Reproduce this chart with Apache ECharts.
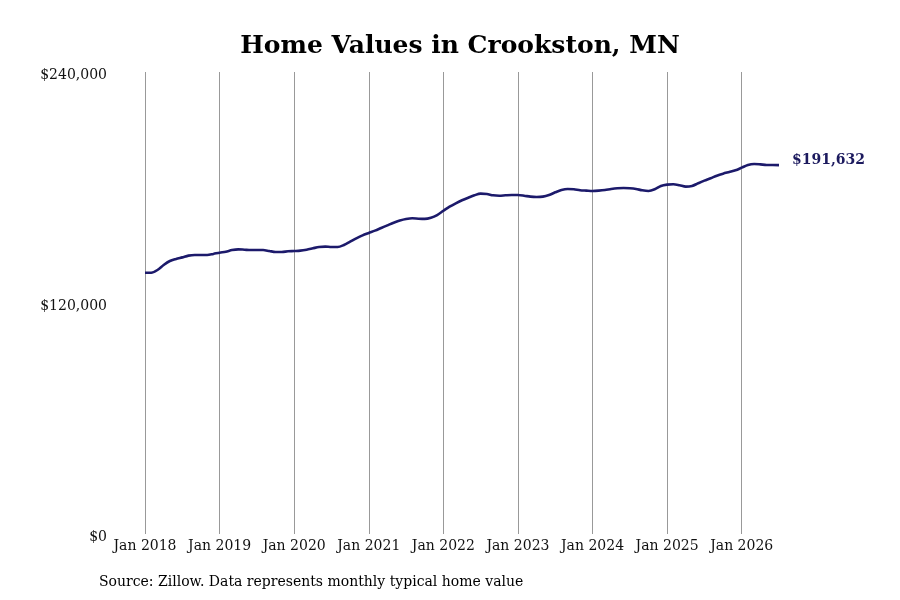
<!DOCTYPE html>
<html>
<head>
<meta charset="utf-8">
<script src="https://cdn.jsdelivr.net/npm/echarts@6/dist/echarts.min.js"></script>
<style>html,body{margin:0;padding:0;background:#fff;}#c{width:900px;height:600px;}</style>
</head>
<body>
<div id="c"></div>
<script>
var years = [2018, 2019, 2020, 2021, 2022, 2023, 2024, 2025, 2026];
var monthsInLastYear = 7;
var values2018 = [135700, 135700, 137150, 139750, 141800, 142860, 143700, 144600, 144940, 144940, 144940, 145500];
var values2019 = [146150, 146650, 147500, 147880, 147700, 147500, 147500, 147500, 147000, 146500, 146500, 146850];
var values2020 = [147000, 147200, 147700, 148400, 149100, 149300, 149100, 149100, 150150, 151850, 153600, 155150];
var values2021 = [156400, 157600, 158970, 160350, 161700, 162800, 163600, 164000, 163800, 163700, 164300, 165700];
var values2022 = [167900, 170050, 171800, 173350, 174700, 175950, 176800, 176630, 175950, 175750, 175950, 176100];
var values2023 = [176100, 175750, 175250, 175070, 175250, 176100, 177500, 178700, 179230, 179050, 178550, 178370];
var values2024 = [178200, 178370, 178700, 179230, 179600, 179750, 179600, 179230, 178550, 178200, 179050, 180800];
var values2025 = [181500, 181670, 181150, 180450, 180800, 182200, 183550, 184780, 186150, 187200, 188050, 188930];
var values2026 = [190300, 191700, 192200, 192000, 191700, 191700, 191632];
var yTicks = [0, 120000, 240000];
var titleText = 'Home Values in Crookston, MN';
var sourceText = 'Source: Zillow. Data represents monthly typical home value';

var monthNames = ['Jan','Feb','Mar','Apr','May','Jun','Jul','Aug','Sep','Oct','Nov','Dec'];
var categories = [];
years.forEach(function (y, i) {
  var n = (i === years.length - 1) ? monthsInLastYear : 12;
  for (var m = 0; m < n; m++) categories.push(monthNames[m] + ' ' + y);
});
var values = [].concat(values2018, values2019, values2020, values2021, values2022, values2023, values2024, values2025, values2026);

function money(v) { return '$' + Math.round(v).toLocaleString('en-US'); }

var font = '"DejaVu Serif", serif';
var chart = echarts.init(document.getElementById('c'), null, { renderer: 'canvas' });
chart.setOption({
  backgroundColor: '#ffffff',
  animation: false,
  title: {
    text: titleText,
    left: 455,
    top: 29,
    textAlign: 'center',
    textStyle: { fontFamily: font, fontWeight: 'bold', fontSize: 25, color: '#000' }
  },
  grid: { left: 145, right: 121, top: 72, bottom: 66, containLabel: false },
  xAxis: {
    type: 'category',
    data: categories,
    boundaryGap: false,
    axisLine: { show: false },
    axisTick: { show: false },
    axisLabel: {
      interval: function (idx) { return idx % 12 === 0; },
      fontFamily: font, fontSize: 14, color: '#111', margin: 5
    },
    splitLine: {
      show: true,
      interval: function (idx) { return idx % 12 === 0; },
      lineStyle: { color: '#999999', width: 1 }
    }
  },
  yAxis: {
    type: 'value',
    min: yTicks[0],
    max: yTicks[yTicks.length - 1],
    interval: yTicks[1] - yTicks[0],
    axisLine: { show: false },
    axisTick: { show: false },
    splitLine: { show: false },
    axisLabel: {
      formatter: function (v) { return '{v|' + money(v) + '}'; },
      fontFamily: font, fontSize: 14, color: '#111', margin: 38,
      rich: { v: { fontFamily: font, fontSize: 14, color: '#111', padding: [6, 0, 0, 0] } }
    }
  },
  series: [{
    type: 'line',
    data: values,
    smooth: 0.3,
    showSymbol: false,
    lineStyle: { color: '#1c1a6b', width: 2.6 },
    endLabel: {
      show: true,
      formatter: function (p) { return money(p.value); },
      fontFamily: font, fontWeight: 'bold', fontSize: 14, color: '#1c1a5e',
      distance: 13,
      offset: [0, -5]
    }
  }],
  graphic: [{
    type: 'text',
    left: 99,
    top: 575,
    style: { text: sourceText, fontFamily: font, fontSize: 14, fill: '#000' }
  }]
});
</script>
</body>
</html>
